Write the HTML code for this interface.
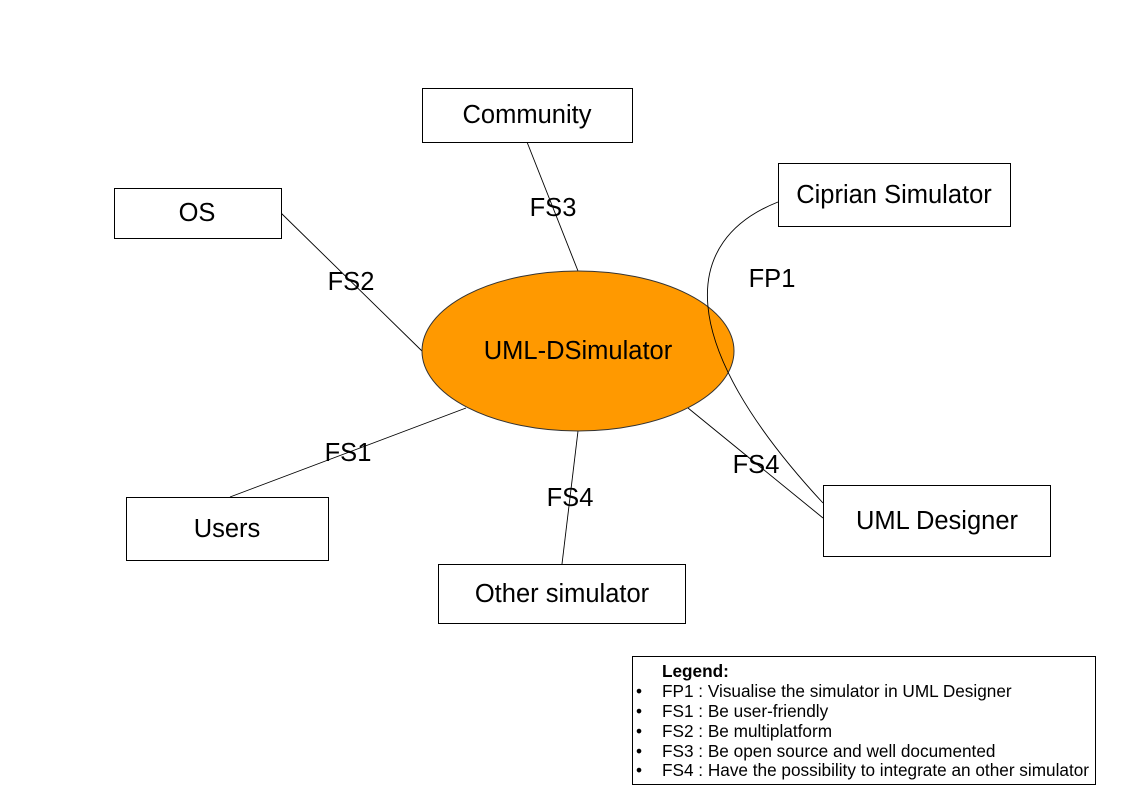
<!DOCTYPE html>
<html><head><style>body{margin:0;background:#fff}svg{display:block}text{font-family:"Liberation Sans",Arial,sans-serif}</style></head><body>
<svg width="1123" height="794" xmlns="http://www.w3.org/2000/svg">
<g stroke="#000" stroke-width="0.9" fill="none">
<line x1="527" y1="142" x2="578" y2="271"/>
<line x1="281" y1="213" x2="423" y2="352"/>
<line x1="230" y1="497" x2="466" y2="408"/>
<line x1="562" y1="564" x2="578" y2="431"/>
<line x1="688" y1="408" x2="823" y2="518"/>
</g>
<ellipse cx="578" cy="351" rx="156" ry="80" fill="#ff9900" stroke="#333" stroke-width="1"/>
<path d="M778,202 C682,240 672,340 823,503" fill="none" stroke="#000" stroke-width="0.9"/>
<g fill="#fff" stroke="#000" stroke-width="1">
<rect x="422.5" y="88.5" width="210" height="54"/>
<rect x="114.5" y="188.5" width="167" height="50"/>
<rect x="778.5" y="163.5" width="232" height="63"/>
<rect x="126.5" y="497.5" width="202" height="63"/>
<rect x="438.5" y="564.5" width="247" height="59"/>
<rect x="823.5" y="485.5" width="227" height="71"/>
<rect x="632.5" y="656.5" width="463" height="128"/>
</g>
<g font-size="25.5" text-anchor="middle" fill="#000">
<text x="527" y="123">Community</text>
<text x="197" y="221">OS</text>
<text x="894" y="203">Ciprian Simulator</text>
<text x="227" y="537">Users</text>
<text x="562" y="602">Other simulator</text>
<text x="937" y="529">UML Designer</text>
<text x="578" y="359">UML-DSimulator</text>
<text x="553" y="216">FS3</text>
<text x="351" y="290">FS2</text>
<text x="772" y="287">FP1</text>
<text x="348" y="461">FS1</text>
<text x="570" y="506">FS4</text>
<text x="756" y="473">FS4</text>
</g>
<g font-size="17.2" fill="#000">
<text x="662" y="677" font-weight="bold">Legend:</text>
<text x="636" y="697">•</text><text x="662" y="697">FP1 : Visualise the simulator in UML Designer</text>
<text x="636" y="717">•</text><text x="662" y="717">FS1 : Be user-friendly</text>
<text x="636" y="737">•</text><text x="662" y="737">FS2 : Be multiplatform</text>
<text x="636" y="757">•</text><text x="662" y="757">FS3 : Be open source and well documented</text>
<text x="636" y="776">•</text><text x="662" y="776">FS4 : Have the possibility to integrate an other simulator</text>
</g>
</svg>
</body></html>
